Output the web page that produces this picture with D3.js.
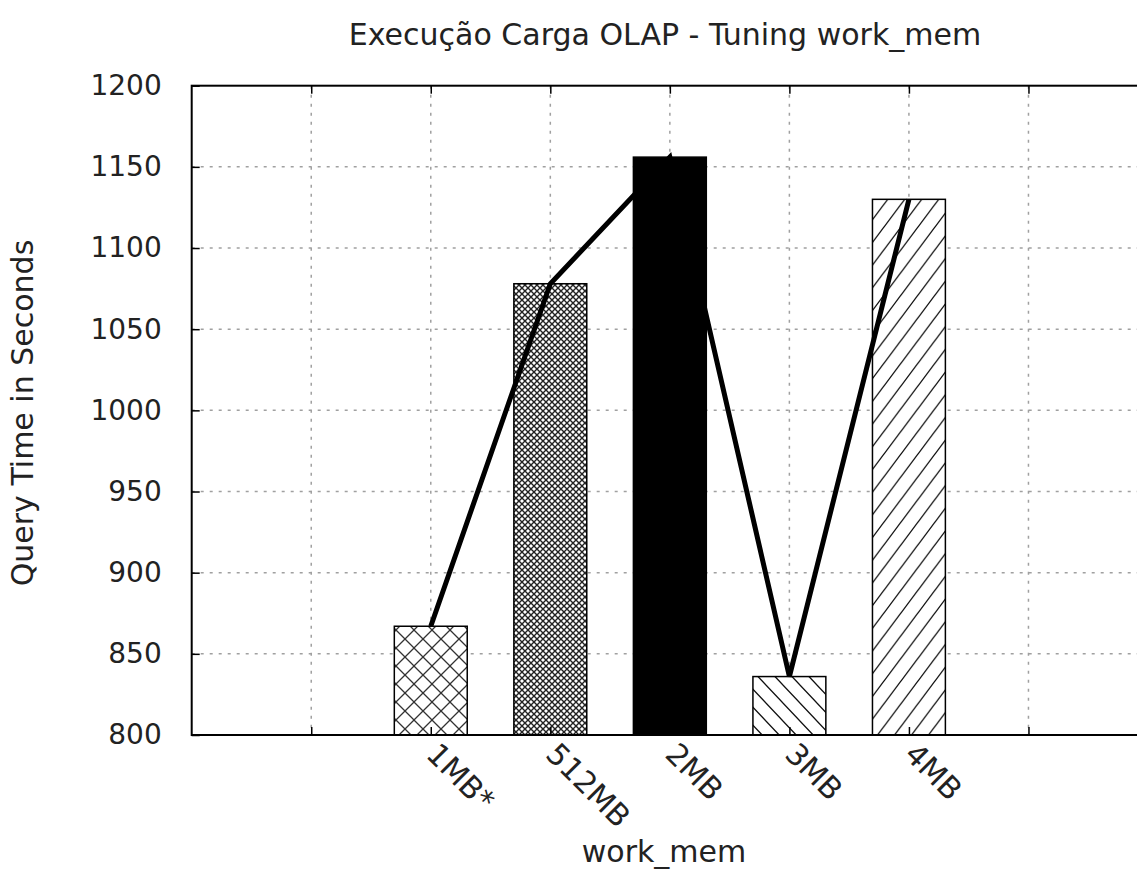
<!DOCTYPE html>
<html>
<head>
<meta charset="utf-8">
<script src="https://cdn.jsdelivr.net/npm/d3@7/dist/d3.min.js"></script>
<style>
  html, body { margin: 0; padding: 0; background: #fff; }
  svg { display: block; }
  text { font-family: "DejaVu Sans", sans-serif; fill: #222; }
</style>
</head>
<body>
<svg id="chart" width="1137" height="873"></svg>
<script>
// ---- data ----
const categories = ["1MB*", "512MB", "2MB", "3MB", "4MB"];
const queryTime = [867, 1078, 1156, 836, 1130];
const yTicks = [800, 850, 900, 950, 1000, 1050, 1100, 1150, 1200];
const xGridPositions = [-1, 0, 1, 2, 3, 4, 5];
const patternIds = ["p-cross", "p-mesh", "p-solid", "p-back", "p-fwd"];
const titleText = "Execução Carga OLAP - Tuning work_mem";
const yLabel = "Query Time in Seconds";
const xLabel = "work_mem";

const svg = d3.select("#chart");
const L = 191.7, R = 1148, T = 85.7, B = 735;

const x = d3.scaleLinear().domain([-2, 6]).range([L, R]);
const y = d3.scaleLinear().domain([800, 1200]).range([B, T]);

// ---- patterns ----
const defs = svg.append("defs");
function pat(id, w, h, draw) {
  const p = defs.append("pattern").attr("id", id).attr("patternUnits", "userSpaceOnUse")
    .attr("width", w).attr("height", h);
  p.append("rect").attr("width", w).attr("height", h).attr("fill", "#fff");
  draw(p, w, h);
}
pat("p-cross", 18, 18, (p, w, h) => {
  p.append("path").attr("d", `M0,0L${w},${h}M0,${h}L${w},0`).attr("stroke", "#333").attr("stroke-width", 1.3);
});
pat("p-mesh", 6, 6, (p, w, h) => {
  p.append("path").attr("d", `M0,0L${w},${h}M0,${h}L${w},0`).attr("stroke", "#222").attr("stroke-width", 1.4);
});
pat("p-solid", 10, 10, (p, w, h) => {
  p.append("rect").attr("width", w).attr("height", h).attr("fill", "#000");
});
pat("p-back", 17, 18, (p, w, h) => {
  p.append("path").attr("d", `M0,0L${w},${h}M${-w},0L${w},${2*h}M0,${-h}L${2*w},${h}`).attr("stroke", "#111").attr("stroke-width", 1.3);
});
pat("p-fwd", 17, 22.7, (p, w, h) => {
  p.append("path").attr("d", `M0,${h}L${w},0M${-w},${h}L${w},${-h}M0,${2*h}L${2*w},0`).attr("stroke", "#111").attr("stroke-width", 1.3);
});

// ---- grid ----
const grid = svg.append("g").attr("stroke", "#a0a0a0").attr("stroke-width", 1.5).attr("stroke-dasharray", "3,6");
grid.selectAll("line.gy").data(yTicks.filter(v => v > 800 && v < 1200)).join("line")
  .attr("x1", L).attr("x2", R).attr("y1", d => y(d)).attr("y2", d => y(d));
grid.selectAll("line.gx").data(xGridPositions).join("line")
  .attr("x1", d => x(d)).attr("x2", d => x(d)).attr("y1", T).attr("y2", B);

// ---- bars ----
const bw = 0.61;
svg.append("g").selectAll("rect").data(queryTime).join("rect")
  .attr("x", (d, i) => x(i - bw / 2))
  .attr("width", x(bw) - x(0))
  .attr("y", d => y(d))
  .attr("height", d => B - y(d))
  .attr("fill", (d, i) => `url(#${patternIds[i]})`)
  .attr("stroke", "#000").attr("stroke-width", 1.5);

// ---- line ----
svg.append("path").datum(queryTime)
  .attr("d", d3.line().x((d, i) => x(i)).y(d => y(d)))
  .attr("fill", "none").attr("stroke", "#000").attr("stroke-width", 5)
  .attr("stroke-linejoin", "miter").attr("stroke-linecap", "butt");

// ---- axes ----
const yAxis = d3.axisLeft(y).tickValues(yTicks).tickFormat(d3.format("d"))
  .tickSizeInner(-8).tickSizeOuter(0).tickPadding(30);
const gy = svg.append("g").attr("transform", `translate(${L},0)`).call(yAxis);
gy.select(".domain").remove();
gy.selectAll("line").attr("stroke", "#000").attr("stroke-width", 1.5);
gy.selectAll("text").style("font-size", "28px").style("font-family", "DejaVu Sans").attr("fill", "#222");

const xAxisB = d3.axisBottom(x).tickValues(xGridPositions).tickSizeInner(-8).tickSizeOuter(0).tickFormat("");
const gxb = svg.append("g").attr("transform", `translate(0,${B})`).call(xAxisB);
gxb.select(".domain").remove();
gxb.selectAll("line").attr("stroke", "#000").attr("stroke-width", 1.5);
const xAxisT = d3.axisTop(x).tickValues(xGridPositions).tickSizeInner(-8).tickSizeOuter(0).tickFormat("");
const gxt = svg.append("g").attr("transform", `translate(0,${T})`).call(xAxisT);
gxt.select(".domain").remove();
gxt.selectAll("line").attr("stroke", "#000").attr("stroke-width", 1.5);

// border
svg.append("rect").attr("x", L).attr("y", T).attr("width", R - L).attr("height", B - T)
  .attr("fill", "none").attr("stroke", "#000").attr("stroke-width", 2);

// category labels
svg.append("g").selectAll("text").data(categories).join("text")
  .attr("transform", (d, i) => `translate(${x(i) - 6},${756}) rotate(45)`)
  .attr("text-anchor", "start")
  .style("font-size", "30px")
  .text(d => d);

// titles
svg.append("text").attr("x", 665).attr("y", 45).attr("text-anchor", "middle")
  .style("font-size", "30px").text(titleText);
svg.append("text").attr("transform", `translate(33,413) rotate(-90)`).attr("text-anchor", "middle")
  .style("font-size", "30px").text(yLabel);
svg.append("text").attr("x", 664).attr("y", 862).attr("text-anchor", "middle")
  .style("font-size", "30px").text(xLabel);
</script>
</body>
</html>
